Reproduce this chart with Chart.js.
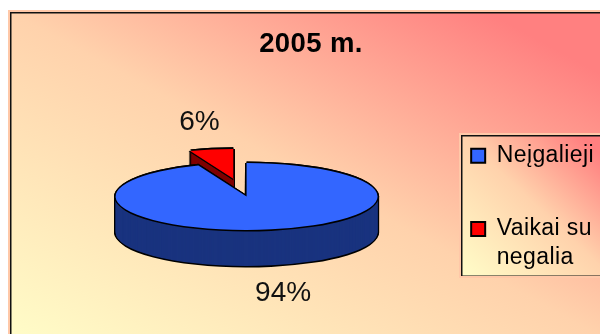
<!DOCTYPE html>
<html>
<head>
<meta charset="utf-8">
<style>
html,body{margin:0;padding:0;background:#fff;overflow:hidden}
#wrap{position:absolute;left:0;top:0;width:600px;height:334px}
</style>
<script src="https://cdn.jsdelivr.net/npm/chart.js@4/dist/chart.umd.js"></script>
</head>
<body>
<div id="wrap"><canvas id="c" width="600" height="334"></canvas></div>
<script>
const categories = ["Neįgalieji", "Vaikai su negalia"];
const legendLines = [["Neįgalieji"], ["Vaikai su", "negalia"]];
const values = [94, 6];
const topColors = ["#3366FF", "#FF0000"];
const sideColors = ["#19337F", "#7F0000"];
const titleText = "2005 m.";
const labelTexts = ["94%", "6%"];
const SQUASH = 0.255, DEPTH = 36, PIE_SHIFT = 22, PIE_LIFT = 1.5, LEGEND_SHIFT = 35, SLICE_RADIUS = 117, SLICE_OFFSET = 71;

function panelGradient(ctx, x0, y0, x1, y1) {
  const w = x1 - x0, h = y1 - y0, L = Math.hypot(w, h);
  const nx = h / L, ny = -w / L, s = 2 * w * h / L;
  const g = ctx.createLinearGradient(x0, y1, x0 + nx * s, y1 + ny * s);
  g.addColorStop(0, "#FFFDC8");
  g.addColorStop(0.5, "#FFD2AC");
  g.addColorStop(0.9, "#FF8080");
  g.addColorStop(1, "#FF8080");
  return g;
}
function panel(ctx, x, y, w, h) {
  ctx.save();
  ctx.fillStyle = "#FFC8A8";
  ctx.fillRect(x - 2, y - 2, w + 4, h + 4);
  ctx.fillStyle = "#111";
  ctx.fillRect(x, y, w, h);
  ctx.fillStyle = panelGradient(ctx, x + 1, y + 1, x + w - 1, y + h - 1);
  ctx.fillRect(x + 1.5, y + 1.5, w - 2, h - 2);
  ctx.restore();
}
const pie3d = {
  id: "pie3d",
  afterLayout(chart) {
    chart.legend.top += LEGEND_SHIFT;
    chart.legend.bottom += LEGEND_SHIFT;
  },
  beforeDraw(chart) {
    const ctx = chart.ctx;
    panel(ctx, 10, 12, 600, 330);
    panel(ctx, 461, 135, 150, 141);
    ctx.letterSpacing = "0.4px";
  },
  beforeDatasetDraw(chart) {
    const ctx = chart.ctx;
    ctx.letterSpacing = "0px";
    const arcs = chart.getDatasetMeta(0).data;
    const paint = (el, i, dx, dy, color) => {
      const saved = el.options;
      const mid = (el.startAngle + el.endAngle) / 2;
      const pull = i === 1 ? SLICE_OFFSET : 0;
      el.options = Object.assign({}, saved, {backgroundColor: color, borderWidth: 0});
      ctx.save();
      ctx.translate(el.x + dx + PIE_SHIFT + Math.cos(mid) * pull,
                    el.y + dy - PIE_LIFT + Math.sin(mid) * pull * SQUASH);
      ctx.scale(1, SQUASH);
      ctx.translate(-el.x, -el.y);
      el.draw(ctx);
      ctx.restore();
      el.options = saved;
    };
    const outline = [[-1.6,0],[1.6,0],[0,-1.6],[0,1.6]];
    arcs[1].outerRadius = SLICE_RADIUS;
    [1, 0].forEach(i => {
      const el = arcs[i];
      for (let d = DEPTH; d >= 0; d--) outline.forEach(o => paint(el, i, o[0], o[1] + d, "#000"));
      for (let d = DEPTH; d >= 1; d--) paint(el, i, 0, d, sideColors[i]);
      outline.forEach(o => paint(el, i, o[0], o[1], "#000"));
      paint(el, i, 0, 0, topColors[i]);
    });
    return false;
  },
  afterDatasetsDraw(chart) {
    const ctx = chart.ctx;
    const arcs = chart.getDatasetMeta(0).data;
    ctx.save();
    ctx.fillStyle = "#111";
    ctx.font = '28px "Liberation Sans"';
    ctx.textAlign = "center";
    ctx.textBaseline = "middle";
    arcs.forEach((el, i) => {
      const mid = (el.startAngle + el.endAngle) / 2;
      const r = el.outerRadius + (i === 1 ? SLICE_OFFSET : 0);
      const px = el.x + PIE_SHIFT + Math.cos(mid) * r;
      const py = el.y + Math.sin(mid) * r * SQUASH;
      if (i === 0) ctx.fillText(labelTexts[i], px + 12, py + DEPTH + 26);
      else ctx.fillText(labelTexts[i], px - 12, py - 28.5);
    });
    ctx.restore();
  }
};
new Chart(document.getElementById("c"), {
  type: "pie",
  data: {
    labels: categories,
    datasets: [{
      data: values,
      backgroundColor: topColors,
      borderColor: "#000",
      borderWidth: 0,
      radius: 131
    }]
  },
  plugins: [pie3d],
  options: {
    responsive: false,
    animation: false,
    rotation: 0,
    layout: {padding: {left: 22, top: 16, right: 0, bottom: 0}},
    plugins: {
      title: {
        display: true,
        text: titleText,
        color: "#000",
        font: {family: '"Liberation Sans"', size: 27.5, weight: "bold"},
        padding: {top: 12, bottom: 1}
      },
      tooltip: {enabled: false},
      legend: {
        position: "right",
        align: "center",
        labels: {
          font: {family: '"Liberation Sans"', size: 23, lineHeight: 1.27},
          color: "#111",
          boxWidth: 14,
          boxHeight: 14,
          padding: 44,
          generateLabels(chart) {
            return legendLines.map((t, i) => ({
              text: t, fillStyle: topColors[i], strokeStyle: "#000", lineWidth: 2, index: i, datasetIndex: 0
            }));
          }
        }
      }
    }
  }
});
</script>
</body>
</html>
